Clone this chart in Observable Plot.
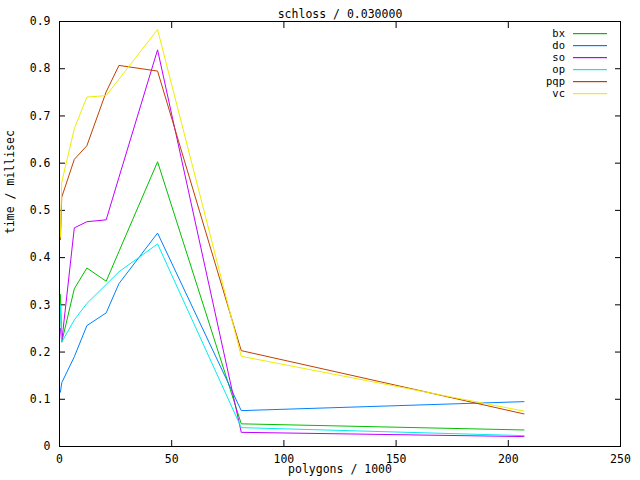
<!DOCTYPE html>
<html>
<head>
<meta charset="utf-8">
<script src="https://cdn.jsdelivr.net/npm/d3@7"></script>
<script src="https://cdn.jsdelivr.net/npm/@observablehq/plot@0.6"></script>
<style>
  html, body { margin: 0; padding: 0; background: #fff; }
  svg { display: block; }
</style>
</head>
<body>
<div id="chart"></div>
<script>
// ---- data ----
const titleText = "schloss / 0.030000";
const xLabel = "polygons / 1000";
const yLabel = "time / millisec";
const seriesNames = ["bx", "do", "so", "op", "pqp", "vc"];
const xValues = [0.4, 1.0, 6.6, 12.2, 20.8, 26.5, 43.7, 81, 207];
const bx  = [0.322, 0.221, 0.334, 0.378, 0.350, 0.413, 0.603, 0.048, 0.035];
const doV = [0.115, 0.135, 0.190, 0.256, 0.283, 0.345, 0.452, 0.076, 0.095];
const so  = [0.250, 0.222, 0.463, 0.476, 0.480, 0.570, 0.840, 0.030, 0.021];
const op  = [0.300, 0.221, 0.268, 0.303, 0.343, 0.370, 0.429, 0.040, 0.023];
const pqp = [0.438, 0.528, 0.608, 0.637, 0.751, 0.807, 0.795, 0.203, 0.069];
const vc  = [0.443, 0.560, 0.673, 0.740, 0.743, 0.778, 0.883, 0.191, 0.075];
const xTicks = [0, 50, 100, 150, 200, 250];
const yTicks = [0, 0.1, 0.2, 0.3, 0.4, 0.5, 0.6, 0.7, 0.8, 0.9];

// ---- styles ----
const colors = ["#00c000", "#0080ff", "#c000ff", "#00eeee", "#c04000", "#eeee00"];
const FONT = "'DejaVu Sans Mono', monospace";
const FS = 11.5;

const seriesValues = [bx, doV, so, op, pqp, vc];
const rows = [];
seriesNames.forEach((name, i) => {
  xValues.forEach((x, j) => rows.push({series: name, x, y: seriesValues[i][j]}));
});

const plot = Plot.plot({
  width: 640,
  height: 480,
  marginLeft: 59,
  marginRight: 20,
  marginTop: 21,
  marginBottom: 34,
  style: {fontFamily: FONT, fontSize: FS + "px", background: "#fff", color: "#000"},
  x: {domain: [0, 250]},
  y: {domain: [0, 0.9]},
  color: {domain: seriesNames, range: colors},
  marks: [
    // inward ticks on all four sides (tick drawn outward then shifted in)
    Plot.axisX(xTicks, {anchor: "bottom", tickSize: 6, dy: -6, text: null, label: null}),
    Plot.axisX(xTicks, {anchor: "top", tickSize: 6, dy: 6, text: null, label: null}),
    Plot.axisY(yTicks, {anchor: "left", tickSize: 6, dx: 6, text: null, label: null}),
    Plot.axisY(yTicks, {anchor: "right", tickSize: 6, dx: -6, text: null, label: null}),
    // tick labels
    Plot.axisX(xTicks, {anchor: "bottom", tickSize: 0, tickPadding: 8, tickFormat: d => String(d), label: null}),
    Plot.axisY(yTicks, {anchor: "left", tickSize: 0, tickPadding: 9, tickFormat: d => d3.format("~g")(d), label: null}),
    Plot.line(rows, {x: "x", y: "y", z: "series", stroke: "series", strokeWidth: 1}),
    Plot.frame({stroke: "#000", strokeWidth: 1}),
    Plot.text([titleText], {frameAnchor: "top", dy: -12, fontSize: FS}),
    Plot.text([xLabel], {frameAnchor: "bottom", dy: 26, fontSize: FS}),
    Plot.text([yLabel], {frameAnchor: "left", dx: -49, rotate: -90, fontSize: FS})
  ]
});

// legend (inside plot, top-right)
const svg = d3.select(plot);
const lg = svg.append("g").attr("font-family", FONT).attr("font-size", 10.5);
seriesNames.forEach((name, i) => {
  const yy = 33 + 12 * i;
  lg.append("text").attr("x", 565).attr("y", yy).attr("dy", "0.35em")
    .attr("text-anchor", "end").attr("fill", "#000").text(name);
  lg.append("rect").attr("x", 573).attr("y", yy).attr("width", 34).attr("height", 1.2)
    .attr("fill", colors[i]).attr("stroke", "none");
});

document.getElementById("chart").appendChild(plot);
</script>
</body>
</html>
